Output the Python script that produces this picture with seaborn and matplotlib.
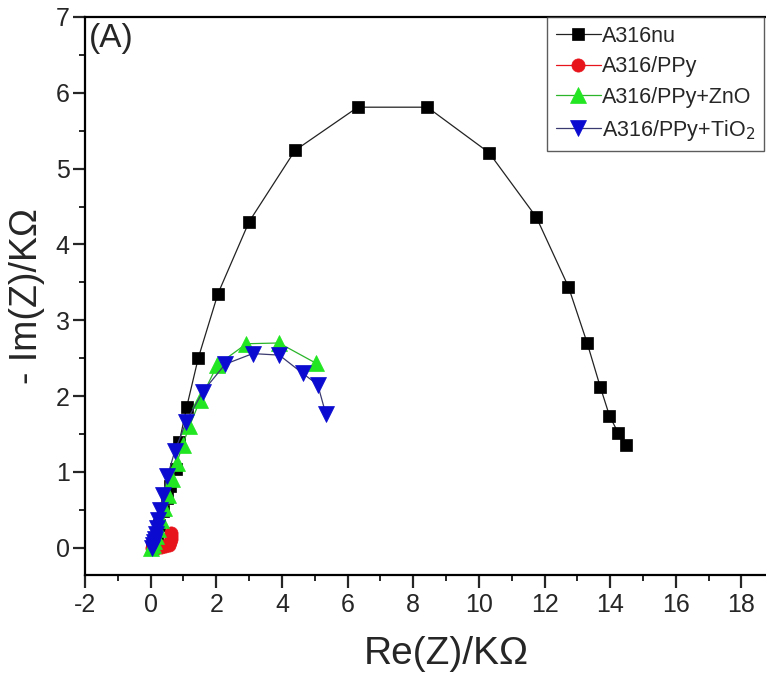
import matplotlib
matplotlib.use("Agg")
import matplotlib.pyplot as plt
from matplotlib.ticker import MultipleLocator
import seaborn as sns
import pandas as pd

# ---- data (KOhm) ----
nu_x = [0.04, 0.07, 0.12, 0.18, 0.26, 0.37, 0.49, 0.59, 0.77, 0.87, 1.10, 1.45, 2.05, 3.00,
        4.40, 6.31, 8.43, 10.31, 11.75, 12.73, 13.30, 13.70, 13.98, 14.25, 14.49]
nu_y = [0.00, 0.04, 0.09, 0.17, 0.30, 0.48, 0.66, 0.82, 1.04, 1.39, 1.86, 2.50, 3.35, 4.30,
        5.24, 5.81, 5.81, 5.21, 4.36, 3.44, 2.70, 2.12, 1.74, 1.51, 1.35]

ppy_x = [0.03, 0.15, 0.30, 0.45, 0.55, 0.59, 0.62, 0.63, 0.62]
ppy_y = [0.00, 0.00, 0.01, 0.02, 0.04, 0.08, 0.12, 0.16, 0.19]

zno_x = [0.02, 0.06, 0.10, 0.15, 0.22, 0.30, 0.40, 0.52, 0.65, 0.80, 0.97, 1.18, 1.51, 2.03,
         2.92, 3.91, 5.05]
zno_y = [0.00, 0.04, 0.09, 0.15, 0.25, 0.37, 0.52, 0.70, 0.90, 1.12, 1.35, 1.60, 1.95, 2.41,
         2.69, 2.70, 2.43]

tio_x = [0.04, 0.06, 0.09, 0.12, 0.15, 0.19, 0.23, 0.29, 0.37, 0.51, 0.74, 1.08, 1.59, 2.27,
         3.11, 3.92, 4.63, 5.09, 5.34]
tio_y = [0.00, 0.03, 0.07, 0.12, 0.18, 0.26, 0.36, 0.50, 0.70, 0.94, 1.28, 1.66, 2.06, 2.42,
         2.56, 2.54, 2.30, 2.15, 1.76]

labels = ["A316nu", "A316/PPy", "A316/PPy+ZnO", "A316/PPy+TiO$_2$"]
x_ticks = [-2, 0, 2, 4, 6, 8, 10, 12, 14, 16, 18]
y_ticks = [0, 1, 2, 3, 4, 5, 6, 7]

sns.set_style("ticks")
plt.rcParams['font.family'] = ['Liberation Sans', 'DejaVu Sans']
plt.rcParams['axes.unicode_minus'] = False

fig = plt.figure(figsize=(7.66, 6.9), dpi=100)
ax = fig.add_axes([0.111, 0.1667, 0.9426, 0.8087])

series = [
    (nu_x, nu_y, labels[0], 's', 'black', '#222222', 9),
    (ppy_x, ppy_y, labels[1], 'o', '#e8141c', '#e8141c', 9.5),
    (zno_x, zno_y, labels[2], '^', '#22e622', '#2ab52a', 11),
    (tio_x, tio_y, labels[3], 'v', '#0a0ad0', '#3a3a70', 11),
]
for xs, ys, lab, mk, mc, lc, ms in series:
    df = pd.DataFrame({"x": xs, "y": ys})
    sns.lineplot(data=df, x="x", y="y", sort=False, estimator=None, ax=ax,
                 color=lc, linewidth=0.9, marker=mk, markersize=ms,
                 markerfacecolor=mc, markeredgecolor=mc, markeredgewidth=0.5,
                 label=lab)

ax.set_xlim(-2, 20)
ax.set_ylim(-0.36, 7)
ax.set_xticks(x_ticks)
ax.set_yticks(y_ticks)
ax.xaxis.set_minor_locator(MultipleLocator(1))
ax.yaxis.set_minor_locator(MultipleLocator(0.5))
ax.tick_params(which='major', direction='out', length=9, width=1.6, labelsize=18)
ax.tick_params(axis='y', which='major', pad=2)
ax.tick_params(axis='x', which='major', pad=4)
ax.tick_params(which='minor', direction='out', length=4.5, width=1.4)
for s in ax.spines.values():
    s.set_linewidth(1.6)
    s.set_color('black')

ax.set_xlabel("Re(Z)/K\u03a9", fontsize=28, labelpad=14)
ax.set_ylabel("- Im(Z)/K\u03a9", fontsize=27, labelpad=8)

ax.text(0.005, 0.99, "(A)", transform=ax.transAxes, fontsize=24, va='top', ha='left')

leg = ax.legend(loc='upper left', bbox_to_anchor=(0.64, 1.0), borderaxespad=0,
                fontsize=15.5, frameon=True, fancybox=False, handlelength=2.1,
                handletextpad=0.05, labelspacing=0.45, borderpad=0.4)
leg.get_frame().set_edgecolor('#333333')
leg.get_frame().set_linewidth(1.0)

fig.savefig("out.png", dpi=100)
